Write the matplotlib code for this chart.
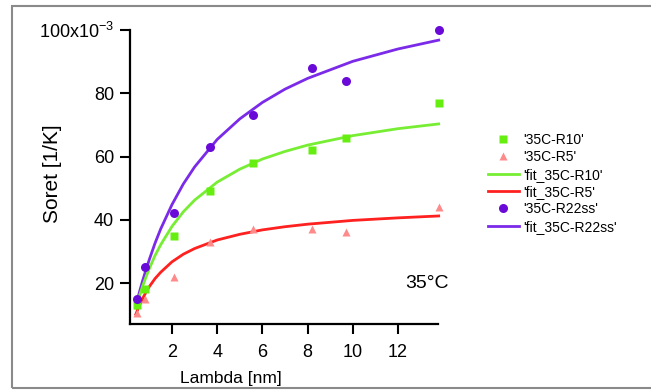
import matplotlib
matplotlib.use("Agg")
import matplotlib.pyplot as plt
from matplotlib.patches import Rectangle

plt.rcParams['font.family'] = ['Liberation Sans', 'DejaVu Sans']
plt.rcParams['mathtext.fontset'] = 'custom'
plt.rcParams['mathtext.rm'] = 'Liberation Sans'
plt.rcParams['mathtext.default'] = 'regular'

# ---- data (Soret values in units of 1e-3 1/K) ----
lam = [0.44, 0.8, 2.1, 3.7, 5.6, 8.2, 9.7, 13.8]
r10 = [13, 18, 35, 49, 58, 62, 66, 77]
r5 = [10.5, 15, 22, 33, 37, 37, 36, 44]
r22 = [15, 25, 42, 63, 73, 88, 84, 100]

# fit curves
fit_x = [0.4, 0.55, 0.7, 0.85, 1.0, 1.25, 1.5, 2, 2.5, 3, 4, 5, 6, 7, 8, 10, 12, 13.8]
fit_r22 = [12.8, 16.9, 20.7, 24.2, 27.5, 32.6, 37.1, 44.8, 51.3, 56.7, 65.4, 71.9,
           77.1, 81.3, 84.7, 90.1, 94.0, 96.8]
fit_r10 = [12.0, 15.7, 19.0, 21.9, 24.6, 28.7, 32.1, 37.9, 42.5, 46.2, 51.9, 56.0,
           59.2, 61.6, 63.6, 66.6, 68.8, 70.3]
fit_r5 = [10.1, 12.8, 15.1, 17.1, 18.9, 21.4, 23.4, 26.7, 29.1, 30.9, 33.6, 35.4,
          36.8, 37.8, 38.6, 39.8, 40.6, 41.2]

xticks = [2, 4, 6, 8, 10, 12]
yticks = [20, 40, 60, 80, 100]
ytick_labels = ['20', '40', '60', '80', '100x10$^{-3}$']

W, H = 651, 392
fig = plt.figure(figsize=(W / 100, H / 100), dpi=100)
ax = fig.add_axes([130 / W, 1 - 324 / H, (438 - 130) / W, (324 - 30) / H])

c_green_pt = '#66ee11'
c_green_ln = '#77ee33'
c_red_pt = '#ff8a8a'
c_red_ln = '#ff2020'
c_pur_pt = '#6a0ad8'
c_pur_ln = '#7a2ae8'

h_fr22, = ax.plot(fit_x, fit_r22, color=c_pur_ln, lw=2.0, zorder=2, clip_on=False)
h_fr10, = ax.plot(fit_x, fit_r10, color=c_green_ln, lw=2.0, zorder=2, clip_on=False)
h_fr5, = ax.plot(fit_x, fit_r5, color=c_red_ln, lw=2.0, zorder=2, clip_on=False)
h_r10, = ax.plot(lam, r10, 's', color=c_green_pt, ms=6, mec='none', zorder=3, clip_on=False)
h_r5, = ax.plot(lam, r5, '^', color=c_red_pt, ms=6, mec='none', zorder=3, clip_on=False)
h_r22, = ax.plot(lam, r22, 'o', color=c_pur_pt, ms=6.5, mec='none', zorder=3, clip_on=False)

ax.set_xlim(0.142, 13.77)
ax.set_ylim(7.04, 100)
ax.set_xticks(xticks)
ax.set_yticks(yticks)
ax.set_yticklabels(ytick_labels)
for s in ['top', 'right']:
    ax.spines[s].set_visible(False)
for s in ['left', 'bottom']:
    ax.spines[s].set_linewidth(1.6)
ax.tick_params(axis='both', direction='out', length=7.5, width=1.5, labelsize=13)
ax.tick_params(axis='y', pad=4)
ax.tick_params(axis='x', pad=7)

fig.text(52 / W, 1 - 174 / H, 'Soret [1/K]', rotation=90, ha='center', va='center', fontsize=15)
fig.text(231 / W, 1 - 378 / H, 'Lambda [nm]', ha='center', va='center', fontsize=12.5)
fig.text(427 / W, 1 - 283 / H, '35°C', ha='center', va='center', fontsize=14)

handles = [h_r10, h_r5, h_fr10, h_fr5, h_r22, h_fr22]
labels = ["'35C-R10'", "'35C-R5'", "'fit_35C-R10'", "'fit_35C-R5'", "'35C-R22ss'",
          "'fit_35C-R22ss'"]
fig.legend(handles, labels, loc='upper left', bbox_to_anchor=(488 / W, 1 - 133 / H),
           frameon=False, fontsize=10, handlelength=2.2, handletextpad=0.35,
           labelspacing=0.24, borderpad=0, borderaxespad=0)

fig.patches.append(Rectangle((12 / W, 1 - 388 / H), (W + 10 - 12) / W, (388 - 6) / H,
                             transform=fig.transFigure, fill=False, ec='#8a8a8a', lw=1.5))

fig.savefig('out.png', dpi=100)
